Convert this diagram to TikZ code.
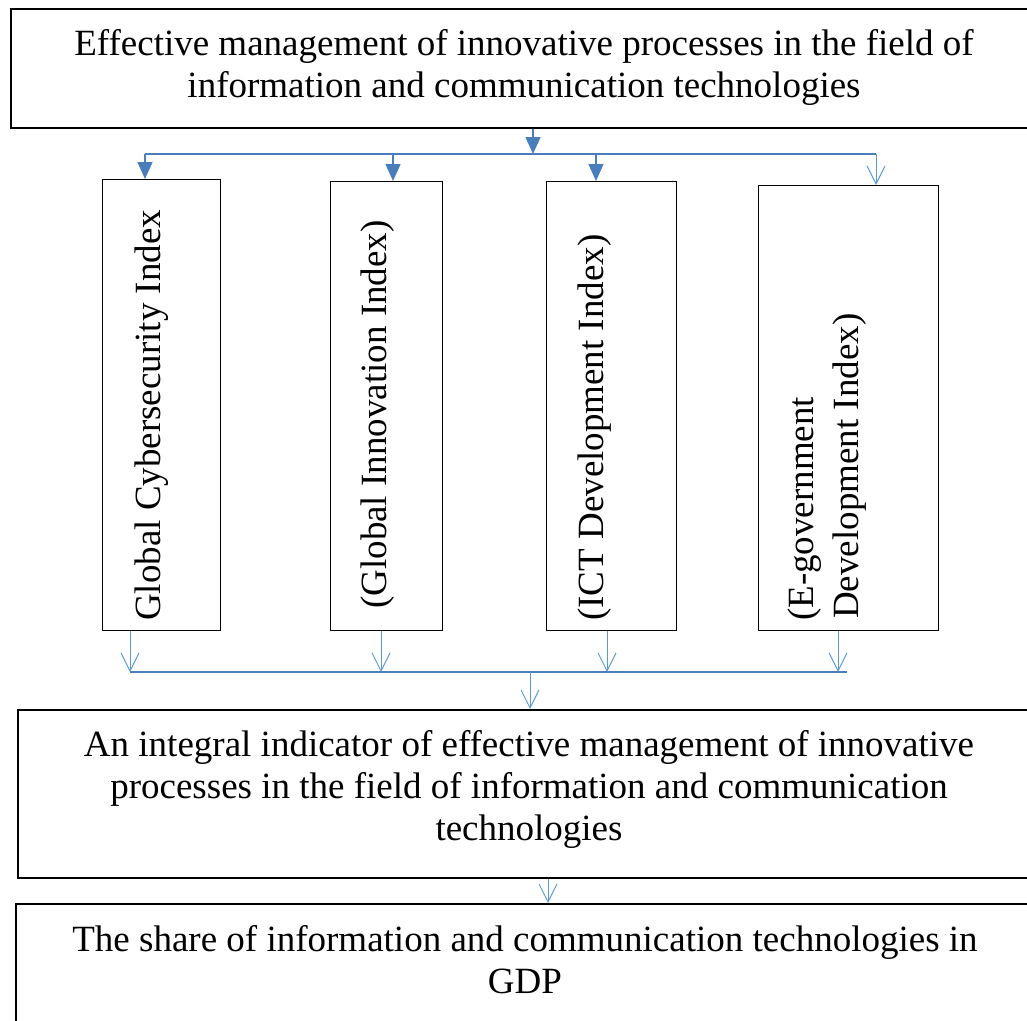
\documentclass[tikz,border=0pt]{standalone}
\usepackage{fontspec}
\setmainfont{Liberation Serif}
\usetikzlibrary{arrows.meta}
\definecolor{fillblue}{HTML}{4A7EBB}
\definecolor{lightblue}{HTML}{5B9BD5}
\begin{document}
\begin{tikzpicture}[x=1pt,y=-1pt,
  bigbox/.style={draw=black, line width=2pt, rectangle, anchor=north west, inner sep=0pt},
  tallbox/.style={draw=black, line width=1.2pt, rectangle, anchor=north west, inner sep=0pt},
  txt/.style={font=\fontsize{37}{42}\selectfont, align=center, inner sep=0pt, anchor=north},
  vtxt/.style={font=\fontsize{37}{42}\selectfont, rotate=90, anchor=base west, inner sep=0pt},
  solidarrow/.style={draw=fillblue, line width=1.5pt, -{Triangle[length=17pt,width=15pt]}},
  openarrow/.style={draw=lightblue, line width=1pt, -{Straight Barb[length=18pt,width=18pt]}},
  busline/.style={draw=fillblue, line width=2pt},
]
\useasboundingbox (0,0) rectangle (1027,1020);
\begin{scope}
\clip (0,0) rectangle (1027,1020);
% boxes
\node[bigbox, minimum width=1040pt, minimum height=119pt] (top) at (10,8) {};
\node[tallbox, minimum width=118pt, minimum height=451pt] (g1) at (102,179) {};
\node[tallbox, minimum width=112pt, minimum height=449pt] (g2) at (330,181) {};
\node[tallbox, minimum width=130pt, minimum height=449pt] (g3) at (546,181) {};
\node[tallbox, minimum width=180pt, minimum height=445pt] (g4) at (758,185) {};
\node[bigbox, minimum width=1030pt, minimum height=168pt] (mid) at (17,709) {};
\node[bigbox, line width=1.5pt, minimum width=1030pt, minimum height=140pt] (bot) at (15,903) {};
% texts
\node[txt] (ttop) at (524,29) {Effective management of innovative processes in the field of\\information and communication technologies};
\node[txt] (tmid) at (529,730) {An integral indicator of effective management of innovative\\processes in the field of information and communication\\technologies};
\node[txt] (tbot) at (525,925) {The share of information and communication technologies in\\GDP};
\node[vtxt] (t1) at (160,621) {Global Cybersecurity Index};
\node[vtxt] (t2) at (386,609) {(Global Innovation Index)};
\node[vtxt] (t3) at (603,621) {(ICT Development Index)};
\node[vtxt] (t4a) at (813,621) {(E-government};
\node[vtxt] (t4b) at (858,619) {Development Index)};
% top connectors
\coordinate (jTop) at (533,154);
\coordinate (busL) at (145,154);
\coordinate (busR) at (876,154);
\coordinate (j1) at (145,154);
\coordinate (j2) at (393,154);
\coordinate (j3) at (596,154);
\coordinate (j4) at (876,154);
\draw[busline] (busL) -- (busR);
\draw[solidarrow] (jTop |- top.south) -- (jTop);
\draw[solidarrow] (j1) -- (j1 |- g1.north);
\draw[solidarrow] (j2) -- (j2 |- g2.north);
\draw[solidarrow] (j3) -- (j3 |- g3.north);
\draw[openarrow] (j4) -- (j4 |- g4.north);
% bottom connectors
\coordinate (bL) at (130,672);
\coordinate (bR) at (847,672);
\coordinate (b1) at (130,672);
\coordinate (b2) at (381,672);
\coordinate (b3) at (607,672);
\coordinate (b4) at (838,672);
\coordinate (bMid) at (530,672);
\coordinate (cMid) at (548,0);
\draw[busline] (bL) -- (bR);
\draw[openarrow] (b1 |- g1.south) -- (b1);
\draw[openarrow] (b2 |- g2.south) -- (b2);
\draw[openarrow] (b3 |- g3.south) -- (b3);
\draw[openarrow] (b4 |- g4.south) -- (b4);
\draw[openarrow] (bMid) -- (bMid |- mid.north);
\draw[openarrow] (cMid |- mid.south) -- (cMid |- bot.north);
\end{scope}
\end{tikzpicture}
\end{document}
